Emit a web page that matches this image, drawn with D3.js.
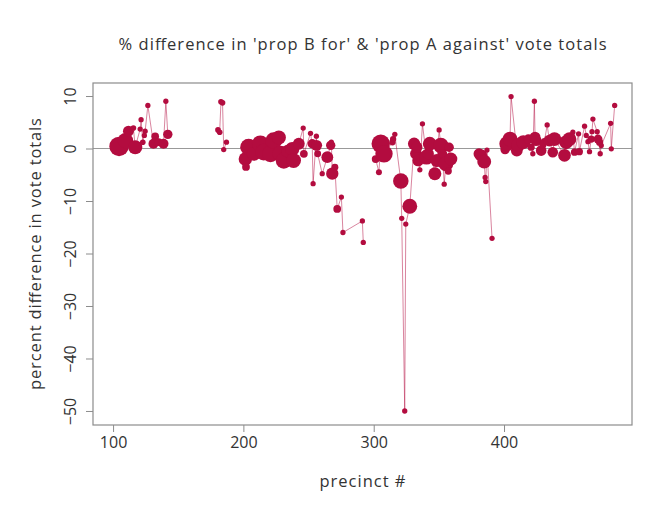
<!DOCTYPE html>
<html>
<head>
<meta charset="utf-8">
<script src="https://cdn.jsdelivr.net/npm/d3@7"></script>
<style>
  body { margin: 0; background: #fff; }
</style>
</head>
<body>
<svg id="chart" width="655" height="509"></svg>
<script>
// precinct numbers
const precincts = [
  104.6,109.5,111.8,115.6,117,120.8,121.5,122.8,124,124.6,126.7,131,132.3,134.9,138.7,140.5,142,
  180.5,181.8,182.8,184,184.9,187,
  201.5,202,204,208,213,215.6,220.8,223.3,227.2,228.5,231,234,237.5,238.5,242.5,245.9,246.4,251.5,252.8,253.5,256,256.2,257,260.5,264.4,267,267.5,268.2,270.2,272,275.2,276.4,291.3,292,
  301.5,304,305.4,307.9,314.4,314.9,316.2,320.8,321.5,323.8,324.6,327.7,331,332.3,333,334.1,335.4,337.4,340.5,341.8,343,346.9,348.5,350.2,351.5,352.8,354.1,355.4,357.2,357.9,359.2,
  380.8,382.3,384.8,385.5,386.0,386.9,390.8,
  400.8,402.1,404.6,405.4,409.8,410.9,414.8,418.7,420.8,422.1,423.3,423.8,424.6,428.5,429.8,431,433.1,434.8,437.4,438.7,446.4,447.7,450.2,452.8,454.1,457.2,457.8,461.8,463.1,464.4,465.6,466.9,467.5,468.2,471.5,472.1,473.3,473.8,474.6,481.8,482.3,484.9
];
// percent difference in vote totals
const pctDiff = [
  0.4,1.5,3.3,3.9,0.25,3.7,5.5,1.2,2.5,3.3,8.2,0.9,2.3,1.2,0.9,9.0,2.7,
  3.55,3.1,8.9,8.7,-0.2,1.2,
  -2.0,-3.5,0.25,-1.0,0.9,-0.7,-1.0,1.5,2.1,-1.0,-2.3,-0.5,-0.1,-2.3,0.9,3.9,-1.0,2.9,0.9,-6.7,2.35,0.6,-1.0,-4.8,-1.65,0.6,1.2,-4.8,-3.55,-11.5,-9.25,-16.0,-13.8,-17.9,
  -2.0,-4.5,0.9,-1.0,1.2,1.8,2.7,-6.2,-13.3,-50,-14.4,-11,0.9,-1.0,0.25,-2.3,-4.05,4.7,-1.65,-1.0,0.9,-4.8,-2.3,3.55,0.57,-1.0,-6.8,-2.9,-4.3,0.25,-2.0,
  -1.0,-1.3,-2.5,-5.5,-6.3,-0.3,-17.1,
  -0.2,0.9,1.8,9.9,-0.4,0.7,1.2,1.8,0.25,-1.0,9.0,2.15,1.5,-0.4,0.7,1.3,4.5,1.5,-0.7,1.8,-1.3,1.2,1.8,3.1,-0.7,2.8,-0.6,4.25,2.5,1.3,-0.6,1.8,3.2,5.6,3.2,1.8,1.2,-1.0,0.57,4.8,-0.06,8.2
];
// vote totals (point size)
const voteTotals = [
  950,600,300,80,500,70,70,80,70,70,70,250,150,150,250,70,220,
  80,80,80,80,70,70,
  450,150,700,500,700,700,700,700,500,650,650,400,500,550,350,70,150,70,220,70,70,300,120,70,350,220,70,380,120,150,70,70,70,70,
  150,90,850,750,100,100,70,600,70,70,70,550,380,330,330,330,70,70,550,330,480,420,420,70,600,220,70,550,130,220,420,
  300,380,480,70,70,70,70,
  220,550,550,70,350,480,480,220,130,70,70,300,300,280,130,130,70,350,280,480,400,480,480,70,130,70,130,70,70,70,70,130,70,70,70,200,130,70,70,70,70,70
];
// precincts followed by a run of missing precincts (line breaks there)
const gapsAfter = [142, 187, 292, 359.2, 390.8];
const xTicks = [100, 200, 300, 400];
const yTicks = [10, 0, -10, -20, -30, -40, -50];

(function () {
const data = precincts.map((p, i) => ({p, v: pctDiff[i], n: voteTotals[i]}));
const lineData = [];
data.forEach(d => {
  lineData.push(d);
  if (gapsAfter.includes(d.p)) lineData.push(null);
});

const svg = d3.select("#chart");
const mLeft = 93, mRight = 632, mTop = 83, mBottom = 425;
const x = d3.scaleLinear().domain([84.6, 498.2]).range([mLeft, mRight]);
const y = d3.scaleLinear().domain([-52.67, 12.48]).range([mBottom, mTop]);
const r = d3.scaleSqrt().domain([0, 1000]).range([0, 10]);

const axisColor = "#8c8c8c";
const textColor = "#333";
const pointColor = "#b30c3f";
const font = "'Open Sans', Lato, sans-serif";
const weight = 400;

// zero line
svg.append("line")
  .attr("x1", mLeft).attr("x2", mRight)
  .attr("y1", y(0)).attr("y2", y(0))
  .attr("stroke", "#999").attr("stroke-width", 1.2);

// connecting line
svg.append("path")
  .datum(lineData)
  .attr("fill", "none")
  .attr("stroke", pointColor)
  .attr("stroke-opacity", 0.5)
  .attr("stroke-width", 1)
  .attr("d", d3.line().defined(d => d !== null).x(d => x(d.p)).y(d => y(d.v)));

// points
svg.append("g").selectAll("circle")
  .data(data)
  .join("circle")
  .attr("cx", d => x(d.p))
  .attr("cy", d => y(d.v))
  .attr("r", d => r(d.n))
  .attr("fill", pointColor);

// box
svg.append("rect")
  .attr("x", mLeft).attr("y", mTop)
  .attr("width", mRight - mLeft).attr("height", mBottom - mTop)
  .attr("fill", "none").attr("stroke", axisColor).attr("stroke-width", 1.2);

// x axis
const xAxis = svg.append("g")
  .attr("transform", `translate(0,${mBottom})`)
  .call(d3.axisBottom(x).tickValues(xTicks).tickSize(7).tickPadding(5).tickFormat(d3.format("d")));
xAxis.select(".domain").remove();
xAxis.selectAll("line").attr("stroke", axisColor);
xAxis.selectAll("text").attr("font-size", 16).attr("fill", textColor)
  .style("font-family", font).style("font-weight", weight);

// y axis
const yAxis = svg.append("g")
  .attr("transform", `translate(${mLeft},0)`)
  .call(d3.axisLeft(y).tickValues(yTicks).tickSize(7).tickFormat(d3.format("d")));
yAxis.select(".domain").remove();
yAxis.selectAll("line").attr("stroke", axisColor);
yAxis.selectAll("text")
  .attr("font-size", 16).attr("fill", textColor)
  .attr("x", null).attr("dy", null)
  .attr("text-anchor", "middle")
  .attr("transform", "translate(-17,0) rotate(-90)")
  .style("font-family", font).style("font-weight", weight);

// title
svg.append("text")
  .attr("x", (mLeft + mRight) / 2).attr("y", 50)
  .attr("text-anchor", "middle").attr("font-size", 16.5).attr("fill", textColor)
  .attr("textLength", 488).attr("lengthAdjust", "spacing")
  .style("font-family", font).style("font-weight", weight)
  .text("% difference in 'prop B for' & 'prop A against' vote totals");

// x label
svg.append("text")
  .attr("x", (mLeft + mRight) / 2).attr("y", 487)
  .attr("text-anchor", "middle").attr("font-size", 16.5).attr("fill", textColor)
  .attr("textLength", 86).attr("lengthAdjust", "spacing")
  .style("font-family", font).style("font-weight", weight)
  .text("precinct #");

// y label
svg.append("text")
  .attr("transform", `translate(41,${(mTop + mBottom) / 2}) rotate(-90)`)
  .attr("text-anchor", "middle").attr("font-size", 16.5).attr("fill", textColor)
  .attr("textLength", 272).attr("lengthAdjust", "spacing")
  .style("font-family", font).style("font-weight", weight)
  .text("percent difference in vote totals");
})();
</script>
</body>
</html>
